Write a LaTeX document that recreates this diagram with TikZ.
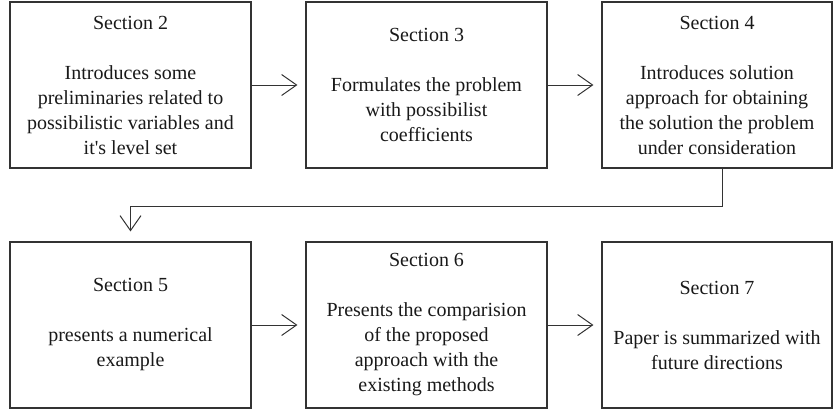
\documentclass[tikz,border=0pt]{standalone}
\usepackage{fontspec}
\setmainfont{Liberation Serif}[Ligatures=TeXOff]
\usetikzlibrary{arrows.meta}
\begin{document}
\begin{tikzpicture}[x=1pt,y=-1pt,
  sbox/.style={draw=black!80,line width=1.1pt,inner sep=0pt,align=center,
    font=\fontsize{20}{25}\selectfont,text=black!90},
  arr/.style={draw=black!80,line width=1pt,
    -{Straight Barb[length=15pt,width=21pt,line width=1pt]},shorten >=8pt}]
\useasboundingbox (0,0) rectangle (833,413);
\node[sbox,minimum width=241pt,minimum height=166pt] (b2) at (130.5,85)
  {Section 2\\[25pt]Introduces some\\preliminaries related to\\possibilistic variables and\\it's level set};
\node[sbox,minimum width=241pt,minimum height=166pt] (b3) at (426.5,85)
  {Section 3\\[25pt]Formulates the problem\\with possibilist\\coefficients};
\node[sbox,minimum width=230pt,minimum height=166pt] (b4) at (717,85)
  {Section 4\\[25pt]Introduces solution\\approach for obtaining\\the solution the problem\\under consideration};
\node[sbox,minimum width=241pt,minimum height=166pt] (b5) at (130.5,325)
  {Section 5\\[25pt]presents a numerical\\example};
\node[sbox,minimum width=241pt,minimum height=166pt] (b6) at (426.5,325)
  {Section 6\\[25pt]Presents the comparision\\of the proposed\\approach with the\\existing methods};
\node[sbox,minimum width=230pt,minimum height=166pt] (b7) at (717,325)
  {Section 7\\[25pt]Paper is summarized with\\future directions};
\coordinate (e1) at (722,206);
\coordinate (e2) at (130.5,206);
\draw[arr] (b2.east) -- (b3.west);
\draw[arr] (b3.east) -- (b4.west);
\draw[arr] (b5.east) -- (b6.west);
\draw[arr] (b6.east) -- (b7.west);
\draw[arr,shorten >=10pt] (b4.south -| e1) -- (e1) -- (e2) -- (b5.north);
\end{tikzpicture}
\end{document}
